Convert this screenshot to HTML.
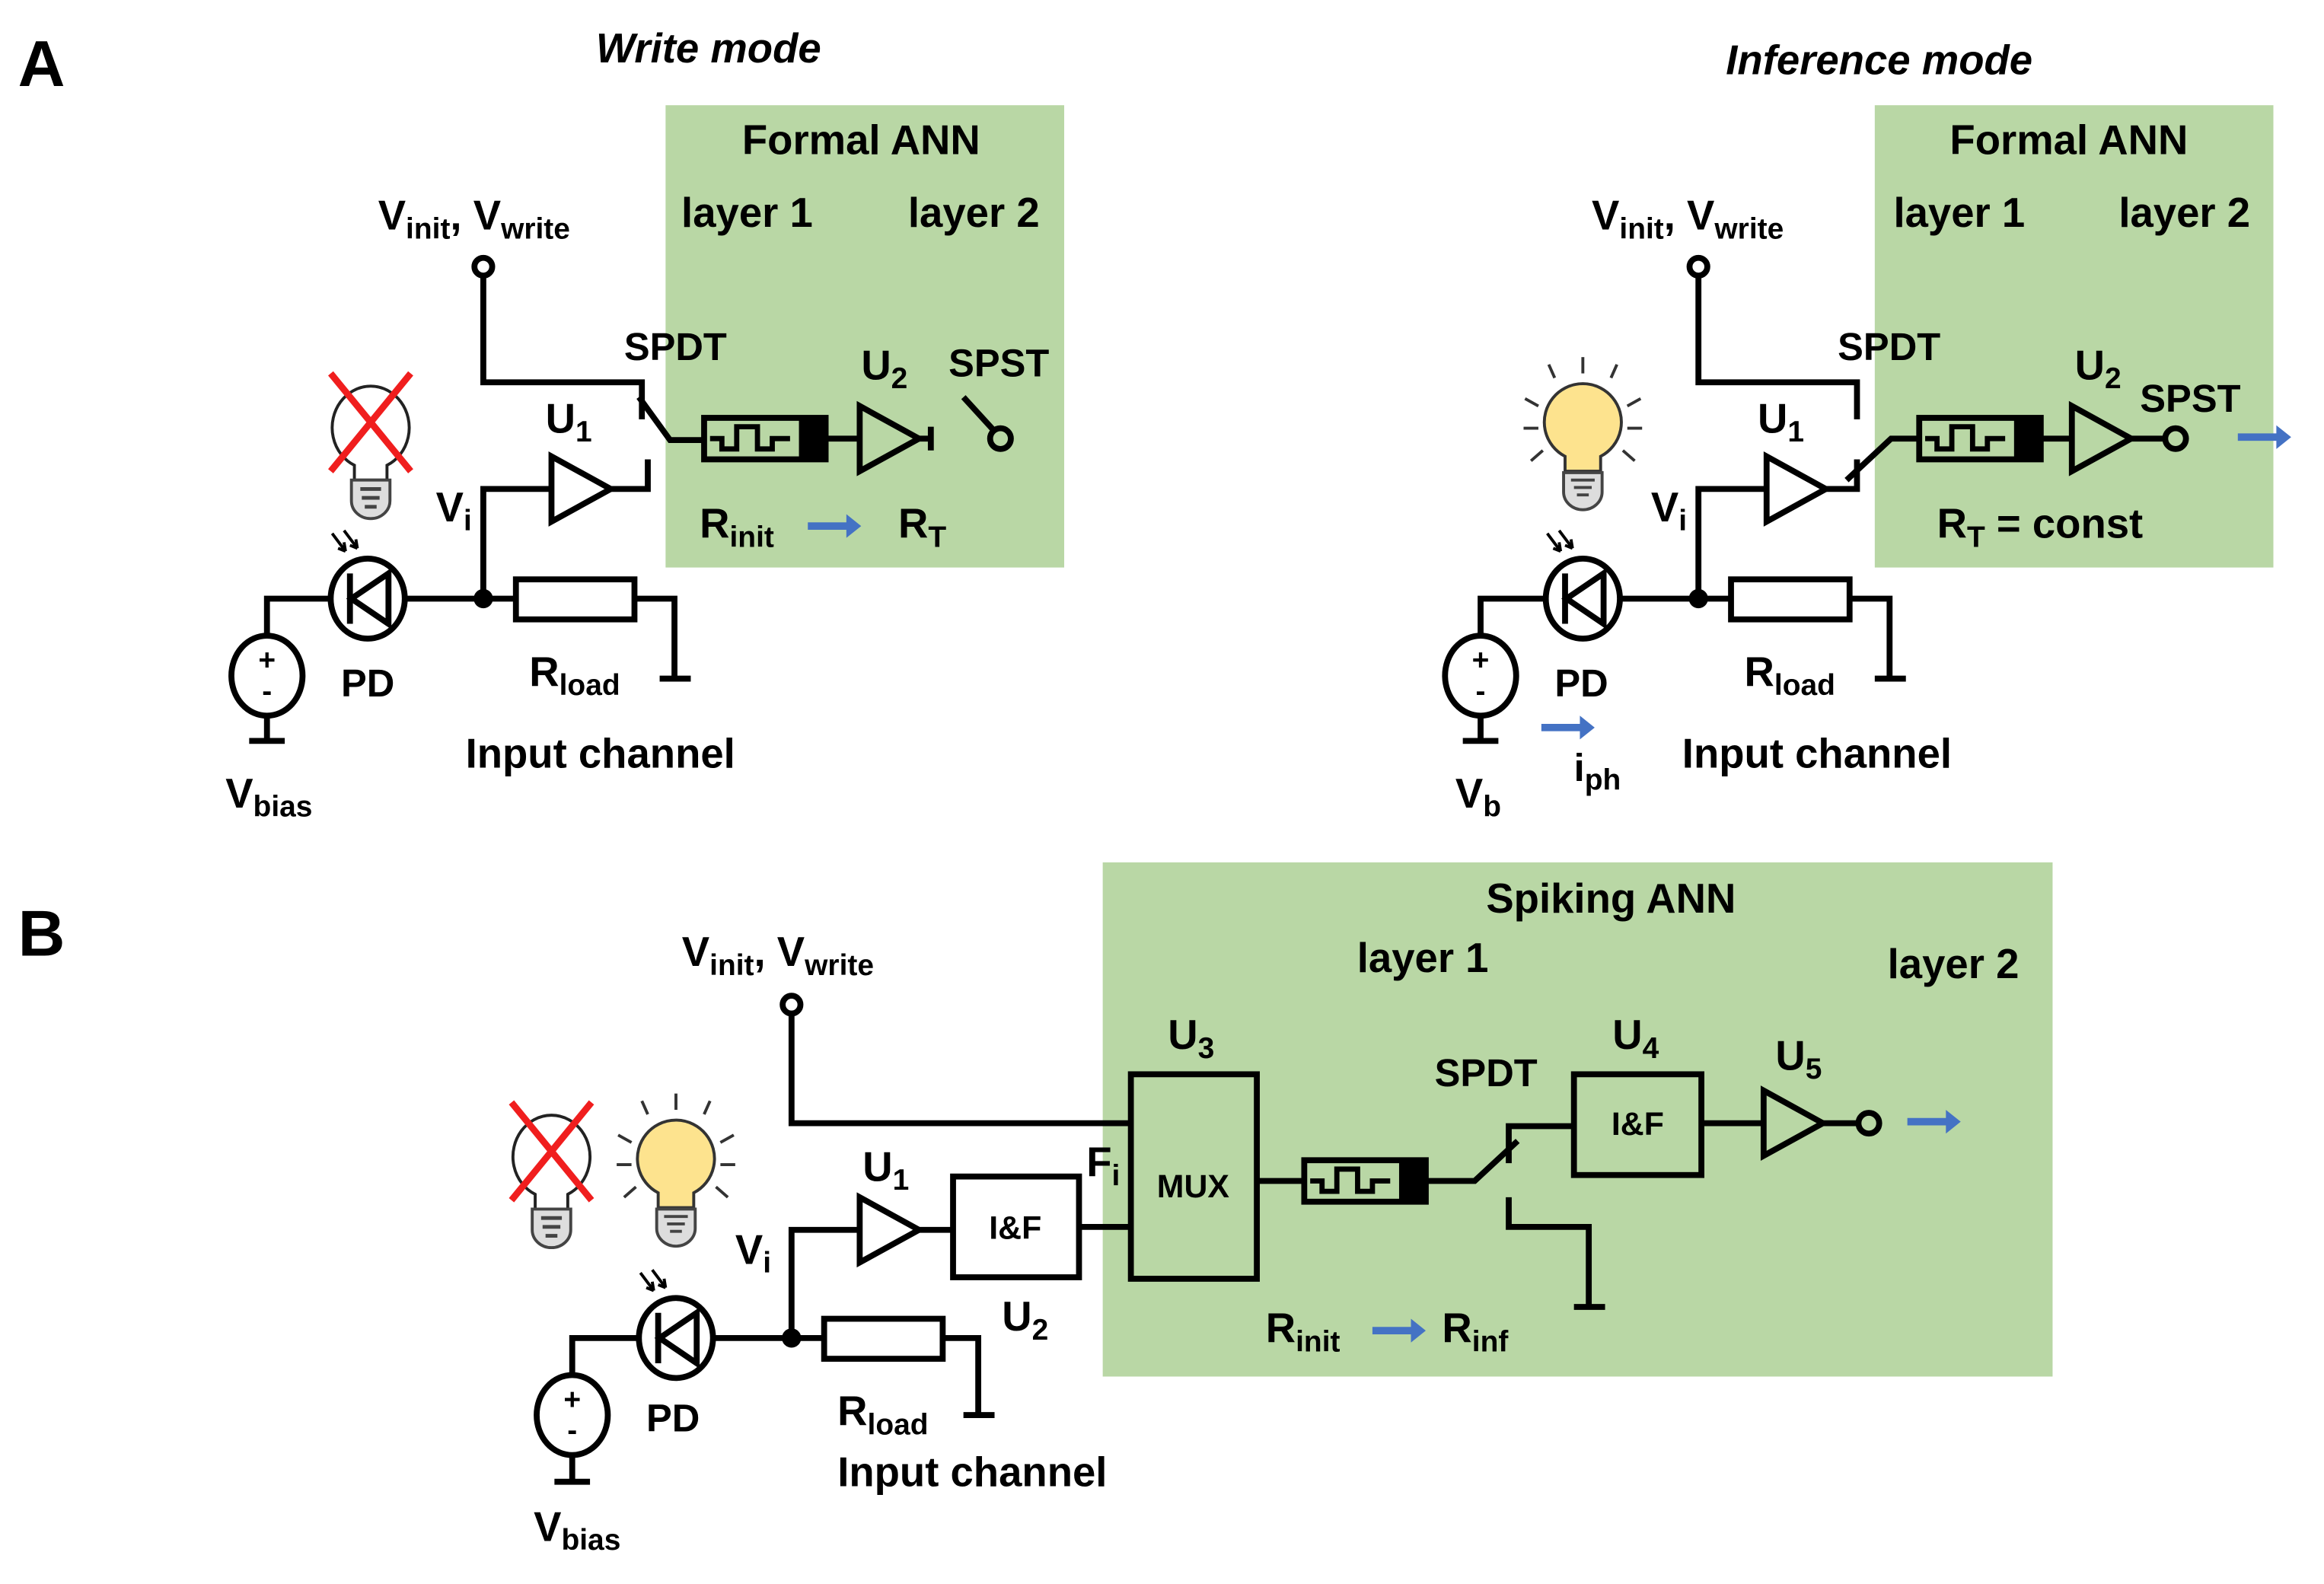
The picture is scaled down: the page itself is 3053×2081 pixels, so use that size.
<!DOCTYPE html>
<html><head><meta charset="utf-8"><style>
html,body{margin:0;padding:0;background:#fff;}
svg{display:block;}
text{font-family:"Liberation Sans",sans-serif;font-weight:bold;fill:#000;}
</style></head><body>
<svg width="3053" height="2081" viewBox="0 0 1568 1069" xmlns="http://www.w3.org/2000/svg">
<defs>
 <g id="mem">
  <rect x="0" y="-14" width="82" height="28" fill="none" stroke="#000" stroke-width="4"/>
  <rect x="64" y="-15" width="19" height="30" fill="#000"/>
  <path d="M4 0 H12 V7 H22 V-8 H36 V7 H46 V0 H58" fill="none" stroke="#000" stroke-width="3.5"/>
 </g>
 <g id="tri"><path d="M0 -22 L0 22 L40 0 Z" fill="none" stroke="#000" stroke-width="4" stroke-linejoin="miter"/></g>
 <g id="pd">
  <ellipse cx="0" cy="0" rx="25" ry="27" fill="none" stroke="#000" stroke-width="4"/>
  <line x1="-12" y1="-17" x2="-12" y2="17" stroke="#000" stroke-width="4"/>
  <path d="M-11 0 L14 -17 L14 17 Z" fill="none" stroke="#000" stroke-width="4"/>
  <path d="M-24 -44 L-15 -32 M-16 -46 L-7 -34" stroke="#000" stroke-width="2"/>
  <path d="M-15 -32 l-1 -6 M-15 -32 l-5 -2 M-7 -34 l-1 -6 M-7 -34 l-5 -2" stroke="#000" stroke-width="2"/>
 </g>
 <g id="vs">
  <ellipse cx="0" cy="0" rx="24" ry="27" fill="none" stroke="#000" stroke-width="4"/>
  <text x="0" y="-4" font-size="20" text-anchor="middle">+</text>
  <text x="0" y="17" font-size="20" text-anchor="middle">-</text>
 </g>
 <g id="res"><rect x="0" y="-13" width="80" height="27" fill="none" stroke="#000" stroke-width="4"/></g>
 <g id="bulbOff">
  <path d="M-11 26 A26 28 0 1 1 11 26 L11 36 L-11 36 Z" fill="#fff" stroke="#222" stroke-width="2"/>
  <path d="M-13 36 H13 V50 A13 12 0 0 1 -13 50 Z" fill="#ddd" stroke="#444" stroke-width="2"/>
  <path d="M-7 42 H7 M-6 48 H6 M-4 54 H4" stroke="#444" stroke-width="2.5"/>
  <path d="M-27 -36 L27 30 M27 -36 L-27 30" stroke="#f01e1e" stroke-width="4.5"/>
 </g>
 <g id="bulbOn">
  <path d="M-12 22 A26 26 0 1 1 12 22 L12 32 L-12 32 Z" fill="#fde38e" stroke="#333" stroke-width="2"/>
  <path d="M-13 33 H13 V46 A13 12 0 0 1 -13 46 Z" fill="#ddd" stroke="#444" stroke-width="2"/>
  <path d="M-8 38 H8 M-6 43 H6 M-4 48 H4" stroke="#444" stroke-width="2"/>
  <g stroke="#333" stroke-width="2">
   <line x1="0" y1="-34" x2="0" y2="-45"/>
   <line x1="-19" y1="-31" x2="-23" y2="-40"/>
   <line x1="19" y1="-31" x2="23" y2="-40"/>
   <line x1="-39" y1="-17" x2="-30" y2="-12"/>
   <line x1="39" y1="-17" x2="30" y2="-12"/>
   <line x1="-40" y1="3" x2="-30" y2="3"/>
   <line x1="40" y1="3" x2="30" y2="3"/>
   <line x1="-35" y1="25" x2="-27" y2="18"/>
   <line x1="35" y1="25" x2="27" y2="18"/>
  </g>
 </g>
 <g id="barrow"><path d="M0 -2.5 H26 V-8 L36 0 L26 8 V2.5 H0 Z" fill="#4472c4"/></g>
</defs>

<!-- ========== Panel A write ========== -->
<text x="12" y="58" font-size="44">A</text>
<text x="478" y="42" font-size="28" font-style="italic" text-anchor="middle">Write mode</text>
<rect x="449" y="71" width="269" height="312" fill="#b9d7a5"/>
<text x="581" y="104" font-size="28" text-anchor="middle">Formal ANN</text>
<text x="504" y="153" font-size="28" text-anchor="middle">layer 1</text>
<text x="657" y="153" font-size="28" text-anchor="middle">layer 2</text>
<text x="255" y="155" font-size="28">V<tspan font-size="20" dy="6">init</tspan><tspan dy="-6">, V</tspan><tspan font-size="20" dy="6">write</tspan></text>
<g fill="none" stroke="#000" stroke-width="4">
 <circle cx="326" cy="180" r="6"/>
 <path d="M326 186 V258 H433 V283"/>
 <path d="M431 268 L452 297 H475"/>
 <path d="M437 310 V330 H412"/>
 <path d="M326 404 V330 H372"/>
 <path d="M557 296 H580"/>
 <path d="M620 296 H628 M628 288 V304"/>
 <path d="M650 268 L671 291"/>
 <circle cx="675" cy="296" r="7"/>
 <path d="M180 430 V404 H223 M273 404 H348 M428 404 H455 V458 M445 458 H466"/>
 <path d="M180 483 V500 M168 500 H192"/>
</g>
<use href="#mem" x="475" y="296"/>
<use href="#tri" x="580" y="296"/>
<use href="#tri" x="372" y="330"/>
<circle cx="326" cy="404" r="6.5"/>
<use href="#pd" x="248" y="404"/>
<use href="#res" x="348" y="404"/>
<use href="#vs" x="180" y="456"/>
<use href="#bulbOff" x="250" y="288"/>
<text x="421" y="243" font-size="26">SPDT</text>
<text x="368" y="292" font-size="28">U<tspan font-size="20" dy="6">1</tspan></text>
<text x="581" y="256" font-size="28">U<tspan font-size="20" dy="6">2</tspan></text>
<text x="640" y="254" font-size="26">SPST</text>
<text x="294" y="352" font-size="28">V<tspan font-size="20" dy="6">i</tspan></text>
<text x="472" y="363" font-size="28">R<tspan font-size="20" dy="6">init</tspan></text>
<use href="#barrow" x="545" y="355"/>
<text x="606" y="363" font-size="28">R<tspan font-size="20" dy="6">T</tspan></text>
<text x="230" y="470" font-size="26">PD</text>
<text x="357" y="463" font-size="28">R<tspan font-size="20" dy="6">load</tspan></text>
<text x="405" y="518" font-size="28" text-anchor="middle">Input channel</text>
<text x="152" y="545" font-size="28">V<tspan font-size="20" dy="6">bias</tspan></text>

<!-- ========== Panel A inference ========== -->
<text x="1268" y="50" font-size="28" font-style="italic" text-anchor="middle">Inference mode</text>
<rect x="1265" y="71" width="269" height="312" fill="#b9d7a5"/>
<text x="1396" y="104" font-size="28" text-anchor="middle">Formal ANN</text>
<text x="1322" y="153" font-size="28" text-anchor="middle">layer 1</text>
<text x="1474" y="153" font-size="28" text-anchor="middle">layer 2</text>
<text x="1074" y="155" font-size="28">V<tspan font-size="20" dy="6">init</tspan><tspan dy="-6">, V</tspan><tspan font-size="20" dy="6">write</tspan></text>
<g fill="none" stroke="#000" stroke-width="4">
 <circle cx="1146" cy="180" r="6"/>
 <path d="M1146 186 V258 H1253 V283"/>
 <path d="M1246 324 L1276 296 H1295"/>
 <path d="M1253 310 V330 H1232"/>
 <path d="M1146 404 V330 H1192"/>
 <path d="M1377 296 H1398"/>
 <path d="M1438 296 H1461"/>
 <circle cx="1468" cy="296" r="7"/>
 <path d="M999 430 V404 H1043 M1093 404 H1168 M1248 404 H1275 V458 M1265 458 H1286"/>
 <path d="M999 483 V500 M987 500 H1011"/>
</g>
<use href="#mem" x="1295" y="296"/>
<use href="#tri" x="1398" y="296"/>
<use href="#tri" x="1192" y="330"/>
<circle cx="1146" cy="404" r="6.5"/>
<use href="#pd" x="1068" y="404"/>
<use href="#res" x="1168" y="404"/>
<use href="#vs" x="999" y="456"/>
<use href="#bulbOn" x="1068" y="286"/>
<use href="#barrow" x="1510" y="295"/>
<text x="1240" y="243" font-size="26">SPDT</text>
<text x="1186" y="292" font-size="28">U<tspan font-size="20" dy="6">1</tspan></text>
<text x="1400" y="256" font-size="28">U<tspan font-size="20" dy="6">2</tspan></text>
<text x="1444" y="278" font-size="26">SPST</text>
<text x="1114" y="352" font-size="28">V<tspan font-size="20" dy="6">i</tspan></text>
<text x="1307" y="363" font-size="28">R<tspan font-size="20" dy="6">T</tspan><tspan dy="-6"> = const</tspan></text>
<text x="1049" y="470" font-size="26">PD</text>
<text x="1177" y="463" font-size="28">R<tspan font-size="20" dy="6">load</tspan></text>
<text x="1226" y="518" font-size="28" text-anchor="middle">Input channel</text>
<use href="#barrow" x="1040" y="491"/>
<text x="1062" y="527" font-size="26">i<tspan font-size="20" dy="6">ph</tspan></text>
<text x="982" y="545" font-size="28">V<tspan font-size="20" dy="6">b</tspan></text>

<!-- ========== Panel B ========== -->
<text x="12" y="645" font-size="44">B</text>
<rect x="744" y="582" width="641" height="347" fill="#b9d7a5"/>
<text x="1087" y="616" font-size="28" text-anchor="middle">Spiking ANN</text>
<text x="960" y="656" font-size="28" text-anchor="middle">layer 1</text>
<text x="1318" y="660" font-size="28" text-anchor="middle">layer 2</text>
<text x="460" y="652" font-size="28">V<tspan font-size="20" dy="6">init</tspan><tspan dy="-6">, V</tspan><tspan font-size="20" dy="6">write</tspan></text>
<g fill="none" stroke="#000" stroke-width="4">
 <circle cx="534" cy="678" r="6"/>
 <path d="M534 684 V758 H763"/>
 <rect x="763" y="725" width="85" height="138"/>
 <rect x="643" y="794" width="85" height="68"/>
 <path d="M534 903 V830 H580 M620 830 H643 M728 828 H763"/>
 <path d="M848 797 H880 M962 797 H995 L1024 770"/>
 <path d="M1018 785 V760 H1062"/>
 <rect x="1062" y="725" width="86" height="68"/>
 <path d="M1018 808 V828 H1072 V882 M1062 882 H1083"/>
 <path d="M1148 758 H1190 M1230 758 H1254"/>
 <circle cx="1261" cy="758" r="7"/>
 <path d="M386 928 V903 H431 M481 903 H556 M636 903 H660 V955 M650 955 H671"/>
 <path d="M386 982 V1000 M374 1000 H398"/>
</g>
<use href="#mem" x="880" y="797"/>
<use href="#tri" x="580" y="830"/>
<use href="#tri" x="1190" y="758"/>
<circle cx="534" cy="903" r="6.5"/>
<use href="#pd" x="456" y="903"/>
<use href="#res" x="556" y="903"/>
<use href="#vs" x="386" y="955"/>
<use href="#bulbOff" x="372" y="780"/>
<use href="#bulbOn" x="456" y="783"/>
<use href="#barrow" x="1287" y="757"/>
<text x="805" y="808" font-size="22" text-anchor="middle">MUX</text>
<text x="685" y="836" font-size="22" text-anchor="middle">I&amp;F</text>
<text x="1105" y="766" font-size="22" text-anchor="middle">I&amp;F</text>
<text x="788" y="708" font-size="28">U<tspan font-size="20" dy="6">3</tspan></text>
<text x="1088" y="708" font-size="28">U<tspan font-size="20" dy="6">4</tspan></text>
<text x="1198" y="722" font-size="28">U<tspan font-size="20" dy="6">5</tspan></text>
<text x="968" y="733" font-size="26">SPDT</text>
<text x="582" y="797" font-size="28">U<tspan font-size="20" dy="6">1</tspan></text>
<text x="676" y="898" font-size="28">U<tspan font-size="20" dy="6">2</tspan></text>
<text x="733" y="794" font-size="28">F<tspan font-size="20" dy="6">i</tspan></text>
<text x="496" y="853" font-size="28">V<tspan font-size="20" dy="6">i</tspan></text>
<text x="854" y="906" font-size="28">R<tspan font-size="20" dy="6">init</tspan></text>
<use href="#barrow" x="926" y="898"/>
<text x="973" y="906" font-size="28">R<tspan font-size="20" dy="6">inf</tspan></text>
<text x="436" y="966" font-size="26">PD</text>
<text x="565" y="962" font-size="28">R<tspan font-size="20" dy="6">load</tspan></text>
<text x="656" y="1003" font-size="28" text-anchor="middle">Input channel</text>
<text x="360" y="1040" font-size="28">V<tspan font-size="20" dy="6">bias</tspan></text>
</svg>
</body></html>
